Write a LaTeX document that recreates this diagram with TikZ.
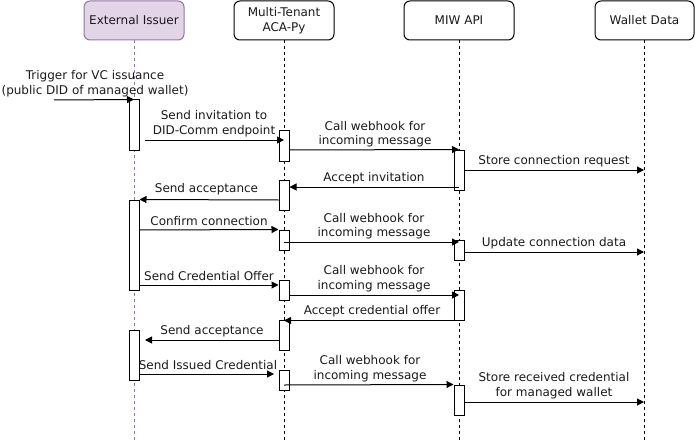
\documentclass[tikz,border=0pt]{standalone}
\usepackage{fontspec}
\setmainfont{DejaVu Sans}
\usetikzlibrary{arrows.meta}
\definecolor{issuerfill}{HTML}{E1D5E7}
\definecolor{issuerdraw}{HTML}{9673A6}
\definecolor{txt}{HTML}{1A1A1A}
\begin{document}
\begin{tikzpicture}[x=1pt,y=-1pt,
  font=\fontsize{12}{14.5}\selectfont,
  hdr/.style={draw=black, fill=white, rounded corners=6pt, minimum width=100pt, minimum height=39pt, inner sep=0pt, align=center, line width=1pt, text=txt},
  life/.style={draw=black, dash pattern=on 3pt off 3pt, line width=1pt},
  actbar/.style={draw=black, fill=white, minimum width=10pt, inner sep=0pt, line width=1pt},
  msg/.style={draw=black, line width=1pt, -{Triangle[length=7pt,width=7pt]}},
  lbl/.style={inner sep=0pt, align=center, text=txt}
]
\useasboundingbox (0,0) rectangle (695,441);

% headers
\node[hdr, fill=issuerfill, draw=issuerdraw] (ei) at (134,20.5) {External Issuer};
\node[hdr] (aca) at (284,20.5) {Multi-Tenant\\ACA-Py};
\node[hdr, minimum width=110pt] (miw) at (459,20.5) {MIW API};
\node[hdr, minimum width=99pt] (wd) at (644.5,20.5) {Wallet Data};

% lifelines
\coordinate (eiE) at (134,441);
\coordinate (acaE) at (284,441);
\coordinate (miwE) at (459,441);
\coordinate (wdE) at (644,441);
\draw[life, draw=issuerdraw] (ei.south) -- (eiE);
\draw[life] (aca.south) -- (acaE);
\draw[life] (miw.south) -- (miwE);
\draw[life] (wd.south -| wdE) -- (wdE);

% activation bars
\node[actbar, minimum height=50pt] (e1) at (134,125) {};
\node[actbar, minimum height=90pt] (e2) at (134,245) {};
\node[actbar, minimum height=50pt] (e3) at (134,355) {};

\node[actbar, minimum height=31pt] (a1) at (284,145.5) {};
\node[actbar, minimum height=30pt] (a2) at (284,195) {};
\node[actbar, minimum height=20pt] (a3) at (284,240) {};
\node[actbar, minimum height=20pt] (a4) at (284,290) {};
\node[actbar, minimum height=30pt] (a5) at (284,335) {};
\node[actbar, minimum height=20pt] (a6) at (284,380) {};

\node[actbar, minimum height=40pt] (m1) at (459,170) {};
\node[actbar, minimum height=20pt] (m2) at (459,250) {};
\node[actbar, minimum height=30pt] (m3) at (459,305) {};
\node[actbar, minimum height=30pt] (m4) at (459,400) {};

% messages
\coordinate (trig) at (54,100);
\draw[msg] (trig) -- (e1.north);
\node[lbl] (l1) at (95,83.5) {Trigger for VC issuance\\(public DID of managed wallet)};

\coordinate (s2) at (145,140);
\draw[msg] (s2) -- (a1.center |- s2);
\node[lbl] (l2) at (214,123.5) {Send invitation to\\DID-Comm endpoint};

\draw[msg] (a1.east |- 0,150) -- (m1.north);
\node[lbl] (l3) at (375,134) {Call webhook for\\incoming message};

\draw[msg] (m1.east |- 0,170) -- (wdE |- 0,170);
\node[lbl] (l4) at (554,161) {Store connection request};

\draw[msg] (m1.center |- 0,187) -- (a2.east |- 0,187);
\node[lbl] (l5) at (374,178) {Accept invitation};

\draw[msg] (a2.west |- 0,200) -- (e2.north east);
\node[lbl] (l6) at (206.5,189.5) {Send acceptance};

\draw[msg] (e2.east |- 0,230) -- (a3.north west);
\node[lbl] (l7) at (209,221) {Confirm connection};

\draw[msg] (a3.center |- 0,242) -- (m2.center |- 0,242);
\node[lbl] (l8) at (374,226) {Call webhook for\\incoming message};

\draw[msg] (m2.east |- 0,252) -- (wdE |- 0,252);
\node[lbl] (l9) at (554,243) {Update connection data};

\draw[msg] (e2.east |- 0,285) -- (a4.west |- 0,285);
\node[lbl] (l10) at (209,276) {Send Credential Offer};

\draw[msg] (a4.east |- 0,295) -- (m3.center |- 0,295);
\node[lbl] (l11) at (374,278.5) {Call webhook for\\incoming message};

\draw[msg] (m3.south) -- (a5.center |- m3.south);
\node[lbl] (l12) at (372,311) {Accept credential offer};

\coordinate (s13) at (145,340);
\draw[msg] (a5.west |- s13) -- (s13);
\node[lbl] (l13) at (212,331) {Send acceptance};

\coordinate (s14) at (274,374);
\draw[msg] (e3.east |- s14) -- (s14);
\node[lbl] (l14) at (208,365) {Send Issued Credential};

\draw[msg] (a6.center |- 0,385) -- (m4.north west);
\node[lbl] (l15) at (370,368.5) {Call webhook for\\incoming message};

\draw[msg] (m4.east |- 0,402) -- (wdE |- 0,402);
\node[lbl] (l16) at (554,385.5) {Store received credential\\for managed wallet};
\end{tikzpicture}
\end{document}
